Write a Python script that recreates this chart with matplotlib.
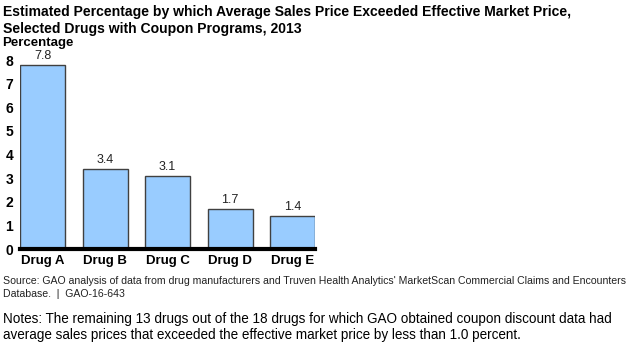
import matplotlib.pyplot as plt

drugs = ["Drug A", "Drug B", "Drug C", "Drug D", "Drug E"]
values = [7.8, 3.4, 3.1, 1.7, 1.4]
yticks = [0, 1, 2, 3, 4, 5, 6, 7, 8]

plt.rcParams['font.family'] = ['Liberation Sans', 'DejaVu Sans']

fig = plt.figure(figsize=(6.4, 3.43), dpi=100)
ax = fig.add_axes([0.03125, 0.274, 0.461, 0.551])

x = range(len(drugs))
ax.bar(x, values, width=0.72, color="#99ccff", edgecolor="#404040", linewidth=1.0, zorder=2)
for i, v in zip(x, values):
    ax.text(i, v + 0.12, f"{v:.1f}", ha="center", va="bottom", fontsize=9, color="#222222", clip_on=False)

ax.set_xlim(-0.36, 4.36)
ax.set_ylim(0, 8)
ax.set_xticks(list(x))
ax.set_xticklabels(drugs, fontsize=9.5, fontweight="bold")
ax.set_yticks(yticks)
ax.set_yticklabels([str(t) for t in yticks], fontsize=10, fontweight="bold")
ax.tick_params(length=0, pad=4)
ax.tick_params(axis="y", pad=5)
for s in ["top", "right", "left"]:
    ax.spines[s].set_visible(False)
ax.spines["bottom"].set_linewidth(3)
ax.spines["bottom"].set_zorder(3)

fig.text(0.004, 0.985, "Estimated Percentage by which Average Sales Price Exceeded Effective Market Price,\nSelected Drugs with Coupon Programs, 2013",
         fontsize=10.1, fontweight="bold", va="top", ha="left", linespacing=1.25)
fig.text(0.004, 0.893, "Percentage", fontsize=9.5, fontweight="bold", va="top", ha="left")
fig.text(0.004, 0.195, "Source: GAO analysis of data from drug manufacturers and Truven Health Analytics' MarketScan Commercial Claims and Encounters\nDatabase.  |  GAO-16-643",
         fontsize=7.6, va="top", ha="left", linespacing=1.3, color="#222222")
fig.text(0.004, 0.09, "Notes: The remaining 13 drugs out of the 18 drugs for which GAO obtained coupon discount data had\naverage sales prices that exceeded the effective market price by less than 1.0 percent.",
         fontsize=9.75, va="top", ha="left", linespacing=1.15)

fig.savefig("out.png", dpi=100)
